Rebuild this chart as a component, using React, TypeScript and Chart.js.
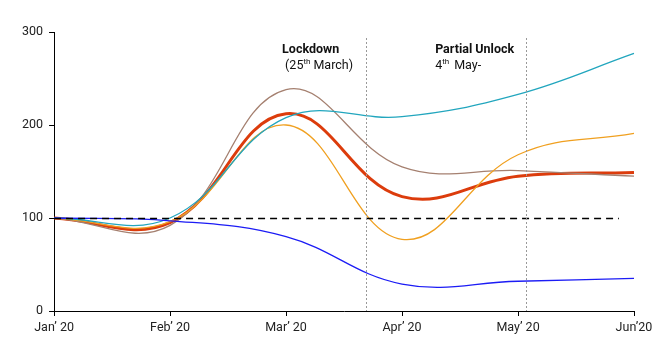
import React, { useEffect, useRef } from "react";
import { Chart, registerables } from "chart.js";

Chart.register(...registerables);

const months = ["Jan’ 20", "Feb’ 20", "Mar’ 20", "Apr’ 20", "May’ 20", "Jun’20"];
const overall = [100, 95, 212, 123, 145, 149];
const brown = [100, 92, 238, 155, 151, 145];
const orange = [100, 96, 200, 77, 168, 191];
const teal = [100, 100, 208, 209, 233, 277];
const blue = [100, 97, 80, 29, 32, 35];
const yTicks = [0, 100, 200, 300];
const baseline = 100;
const lockdownAt = 2.69;
const unlockAt = 4.07;

const annotationPlugin = {
  id: "annots",
  afterDatasetsDraw(chart: any) {
    const { ctx, chartArea, scales } = chart;
    const xs = scales.x;
    const ys = scales.y;
    ctx.save();
    ctx.strokeStyle = "#000";
    ctx.lineWidth = 1.3;
    ctx.setLineDash([7, 5]);
    const yb = Math.round(ys.getPixelForValue(baseline)) + 0.5;
    ctx.beginPath();
    ctx.moveTo(chartArea.left, yb);
    ctx.lineTo(xs.getPixelForValue(4.87), yb);
    ctx.stroke();
    ctx.strokeStyle = "#999";
    ctx.lineWidth = 1;
    ctx.setLineDash([2, 2]);
    for (const v of [lockdownAt, unlockAt]) {
      const x = Math.round(xs.getPixelForValue(v)) + 0.5;
      ctx.beginPath();
      ctx.moveTo(x, chartArea.top + 6);
      ctx.lineTo(x, chartArea.bottom);
      ctx.stroke();
    }
    ctx.setLineDash([]);
    ctx.fillStyle = "#111";
    ctx.textBaseline = "middle";
    ctx.textAlign = "left";
    const lx = xs.getPixelForValue(lockdownAt) - 84;
    const ux = xs.getPixelForValue(unlockAt) - 91;
    const t1 = chartArea.top + 18;
    const t2 = chartArea.top + 34;
    ctx.font = "bold 12.5px Roboto";
    ctx.fillText("Lockdown", lx, t1);
    ctx.fillText("Partial Unlock", ux, t1);
    ctx.font = "12.5px Roboto";
    let x = lx + 3;
    ctx.fillText("(25", x, t2);
    x += ctx.measureText("(25").width;
    ctx.font = "8px Roboto";
    ctx.fillText("th", x, t2 - 4);
    x += ctx.measureText("th").width + 3;
    ctx.font = "12.5px Roboto";
    ctx.fillText("March)", x, t2);
    x = ux;
    ctx.fillText("4", x, t2);
    x += ctx.measureText("4").width;
    ctx.font = "8px Roboto";
    ctx.fillText("th", x, t2 - 4);
    x += ctx.measureText("th").width + 5;
    ctx.font = "12.5px Roboto";
    ctx.fillText("May-", x, t2);
    ctx.restore();
  },
};

export default function App() {
  const ref = useRef<HTMLCanvasElement>(null);
  useEffect(() => {
    document.body.style.margin = "0";
    const mk = (data: number[], color: string, w: number) => ({
      data,
      borderColor: color,
      backgroundColor: color,
      borderWidth: w,
      pointRadius: 0,
      tension: 0.4,
      fill: false,
    });
    const chart = new Chart(ref.current!, {
      type: "line",
      data: {
        labels: months,
        datasets: [
          mk(blue, "#1c1cf5", 1.3),
          mk(teal, "#22a6be", 1.3),
          mk(orange, "#f0a020", 1.3),
          mk(brown, "#a58070", 1.3),
          mk(overall, "#dc3c0c", 3),
        ],
      },
      options: {
        responsive: false,
        animation: false,
        maintainAspectRatio: false,
        layout: { padding: { left: 16, right: 34, top: 32, bottom: 16 } },
        plugins: { legend: { display: false }, tooltip: { enabled: false } },
        scales: {
          x: {
            offset: false,
            grid: { display: true, drawOnChartArea: false, tickLength: 5, color: "#000" },
            border: { color: "#000", width: 1 },
            ticks: { color: "#222", font: { family: "Roboto", size: 12.5 }, padding: 4, maxRotation: 0 },
          },
          y: {
            min: 0,
            max: 300,
            afterBuildTicks: (s: any) => {
              s.ticks = yTicks.map((v) => ({ value: v }));
            },
            grid: { display: true, drawOnChartArea: false, tickLength: 5, color: "#000" },
            border: { color: "#000", width: 1 },
            ticks: { color: "#222", font: { family: "Roboto", size: 12.5 }, padding: 6 },
          },
        },
      },
      plugins: [annotationPlugin],
    });
    return () => chart.destroy();
  }, []);
  return (
    <div style={{ width: 668, height: 355 }}>
      <canvas ref={ref} width={668} height={355} style={{ display: "block" }} />
    </div>
  );
}
